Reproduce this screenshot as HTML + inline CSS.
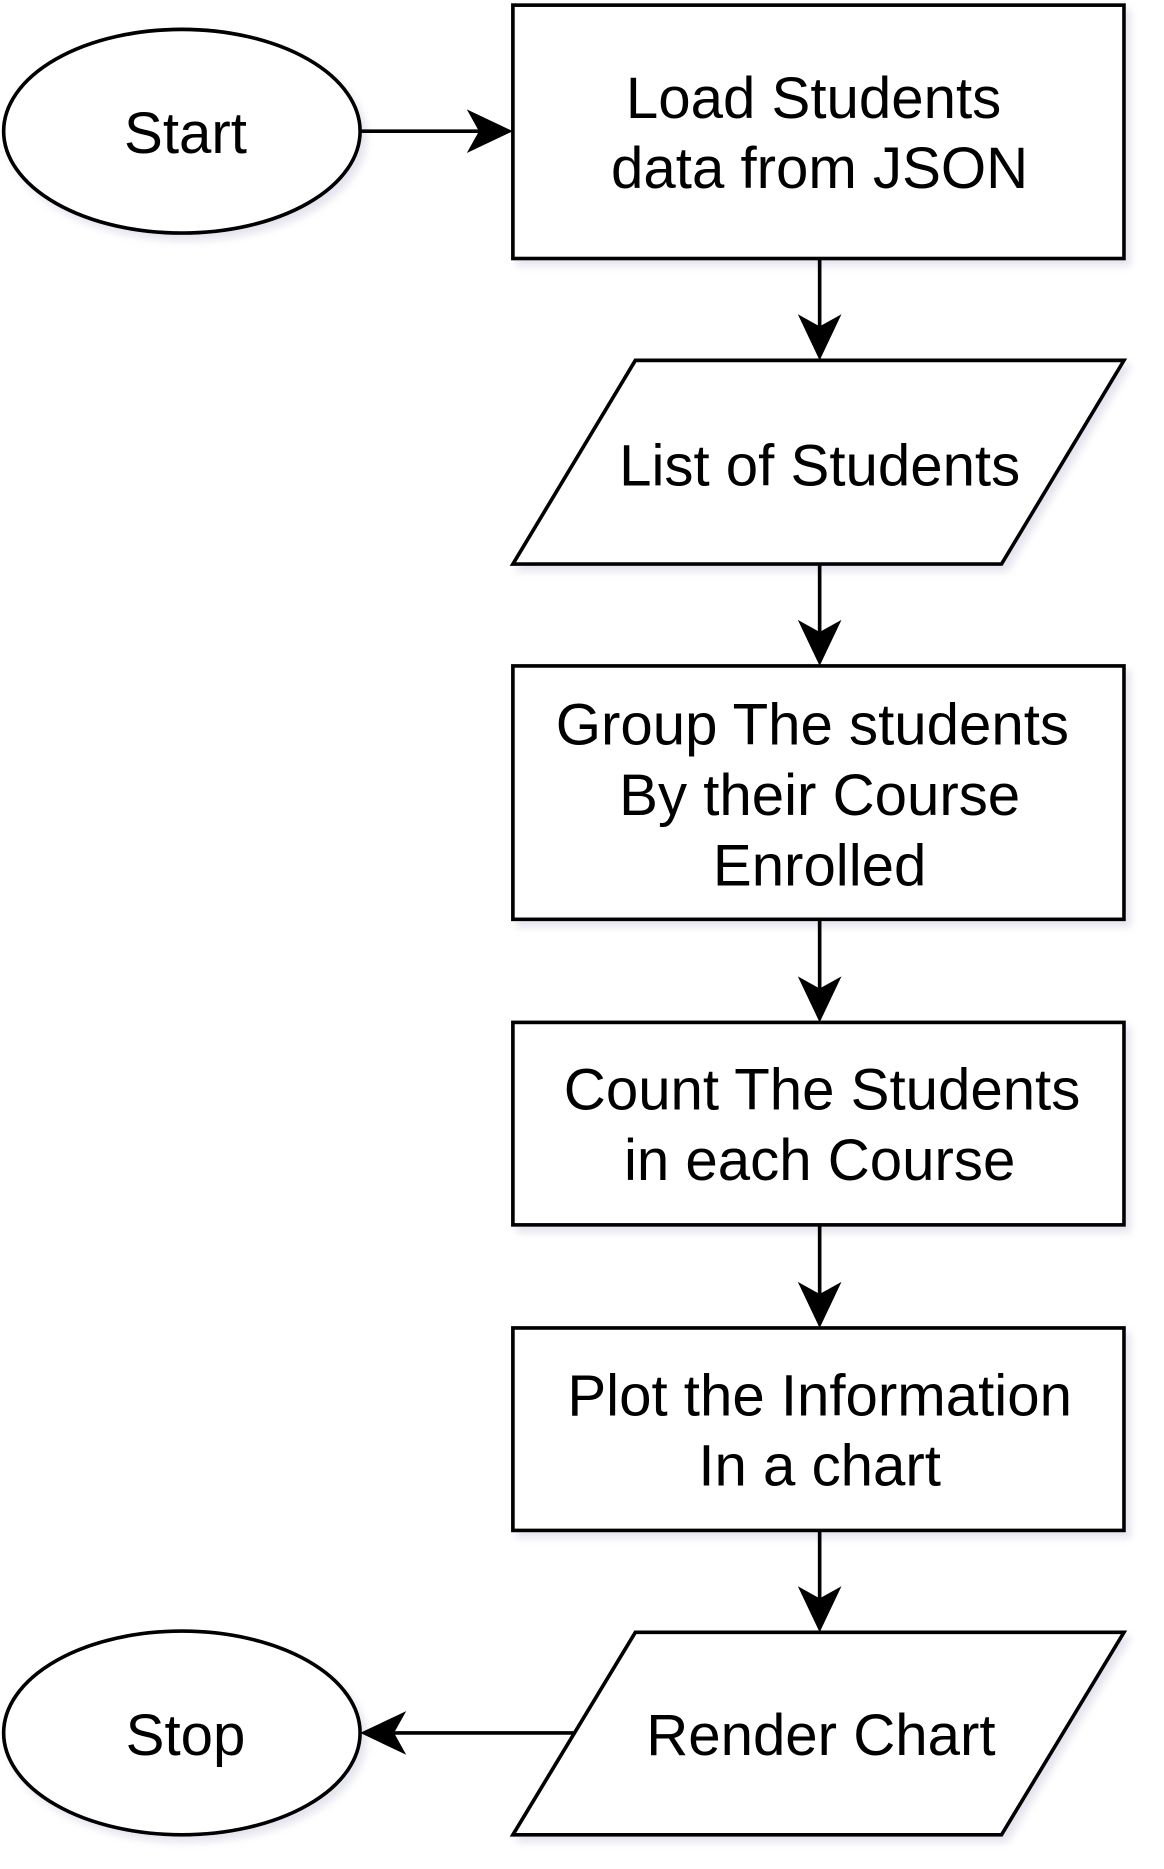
<!DOCTYPE html>
<html><head><style>html,body{margin:0;padding:0;background:#fff}svg{display:block}</style></head>
<body>
<svg width="1164" height="1869" viewBox="0 0 960 1541" xmlns="http://www.w3.org/2000/svg">
<defs>
<filter id="sh" x="-20%" y="-20%" width="140%" height="140%">
<feGaussianBlur in="SourceAlpha" stdDeviation="3"/>
<feOffset dx="4" dy="5"/>
<feComponentTransfer><feFuncA type="linear" slope="0.25"/></feComponentTransfer>
<feColorMatrix type="matrix" values="0 0 0 0 0.3  0 0 0 0 0.3  0 0 0 0 0.5  0 0 0 1 0"/>
<feMerge><feMergeNode/><feMergeNode in="SourceGraphic"/></feMerge>
</filter>
</defs>
<g fill="#fff" stroke="#000" stroke-width="3" filter="url(#sh)">
<ellipse cx="150" cy="108" rx="147" ry="84"/>
<rect x="423" y="4" width="504" height="209"/>
<polygon points="524,297 927,297 826,465 423,465"/>
<rect x="423" y="549" width="504" height="209"/>
<rect x="423" y="843" width="504" height="167"/>
<rect x="423" y="1095" width="504" height="167"/>
<polygon points="524,1346 927,1346 826,1513 423,1513"/>
<ellipse cx="150" cy="1429" rx="147" ry="84"/>
</g>
<g stroke="#000" stroke-width="3" fill="none">
<line x1="297" y1="108" x2="400" y2="108"/>
<line x1="676" y1="213" x2="676" y2="275"/>
<line x1="676" y1="465" x2="676" y2="527"/>
<line x1="676" y1="758" x2="676" y2="821"/>
<line x1="676" y1="1010" x2="676" y2="1073"/>
<line x1="676" y1="1262" x2="676" y2="1324"/>
<line x1="474" y1="1429" x2="320" y2="1429"/>
</g>
<g fill="#000">
<polygon points="423,108 385,90 395,108 385,126"/>
<polygon points="676,297 658,259 676,269 694,259"/>
<polygon points="676,549 658,511 676,521 694,511"/>
<polygon points="676,843 658,805 676,815 694,805"/>
<polygon points="676,1095 658,1057 676,1067 694,1057"/>
<polygon points="676,1346 658,1308 676,1318 694,1308"/>
<polygon points="297,1429 335,1411 325,1429 335,1447"/>
</g>
<g font-family="Liberation Sans, Arial, sans-serif" font-size="48" text-anchor="middle" fill="#000">
<text x="153" y="126">Start</text>
<text x="671" y="97">Load Students</text>
<text x="676" y="155">data from JSON</text>
<text x="676" y="400">List of Students</text>
<text x="670" y="614">Group The students</text>
<text x="676" y="672">By their Course</text>
<text x="676" y="730">Enrolled</text>
<text x="678" y="915">Count The Students</text>
<text x="676" y="973">in each Course</text>
<text x="676" y="1167">Plot the Information</text>
<text x="676" y="1225">In a chart</text>
<text x="677" y="1447">Render Chart</text>
<text x="153" y="1447">Stop</text>
</g>
</svg>
</body></html>
